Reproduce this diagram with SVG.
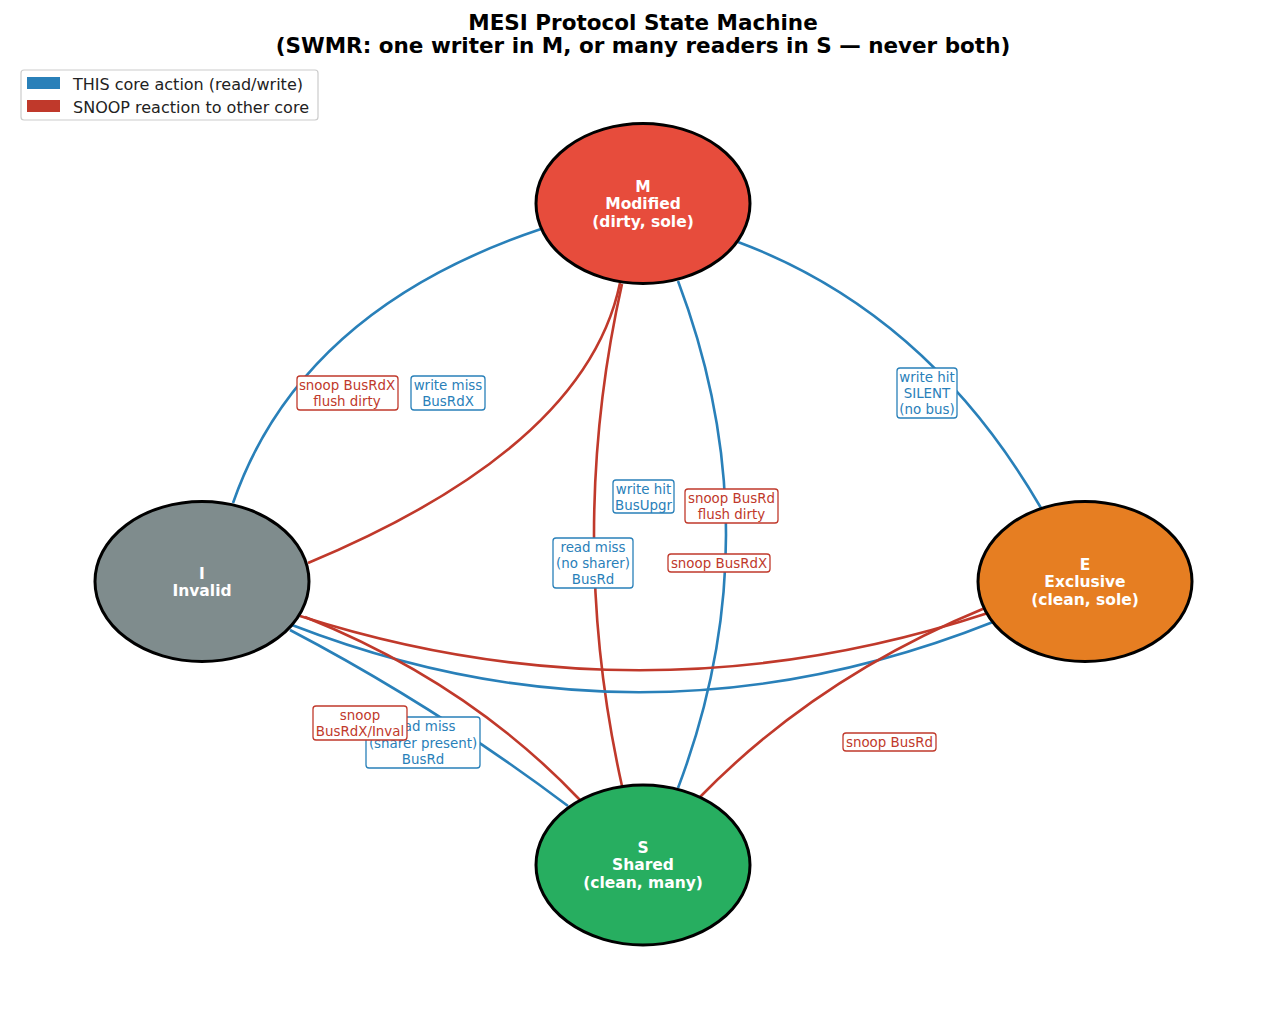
<svg xmlns="http://www.w3.org/2000/svg" width="1287" height="1020" viewBox="0 0 1287 1020">
<style>
text{font-family:"DejaVu Sans","Liberation Sans",sans-serif}
.title{font-size:21.5px;font-weight:bold;fill:#000;text-anchor:middle}
.leg{font-size:16px;fill:#222}
.node{stroke:#000;stroke-width:3}
.nt{font-size:15.5px;font-weight:bold;fill:#fff;text-anchor:middle}
.e{fill:none;stroke-width:2.6}
.b{stroke:#2980b9}
.r{stroke:#c0392b}
.lb{fill:#fff;stroke-width:1.3}
.lt{font-size:13.4px;text-anchor:middle}
.tb{fill:#2980b9}
.tr{fill:#c0392b}
</style>
<rect width="1287" height="1020" fill="#fff"/>
<g id="title">
<text class="title" x="643" y="29.5">MESI Protocol State Machine</text>
<text class="title" x="643" y="52.5">(SWMR: one writer in M, or many readers in S — never both)</text>
</g>
<g id="legend">
<rect x="21" y="70" width="297" height="50" rx="3" fill="#fff" stroke="#ccc" stroke-width="1.2"/>
<rect x="27" y="77" width="33" height="12" fill="#2980b9"/>
<rect x="27" y="100" width="33" height="12" fill="#c0392b"/>
<text class="leg" x="73" y="89.5">THIS core action (read/write)</text>
<text class="leg" x="73" y="112.5">SNOOP reaction to other core</text>
</g>
<g id="connectors">
<path class="e b" d="M233,503 Q300,310 541,229"/>
<path class="e r" d="M620,283 Q586,447 308,563"/>
<path class="e b" d="M738,242 Q928,313 1041,508"/>
<path class="e b" d="M678,281 Q774,535 678,788"/>
<path class="e r" d="M622,284 Q566,535 622,786"/>
<path class="e r" d="M300,616 Q644,726 988,613"/>
<path class="e b" d="M292,625 Q643,761 993,622"/>
<path class="e b" d="M290,630 Q435,706 568,806"/>
<path class="e r" d="M305,617 Q468,682 580,800"/>
<path class="e r" d="M985,608 Q817,677 700,797"/>
</g>
<g id="edge-labels">
<g><rect class="lb r" x="297" y="376" width="101" height="34" rx="3"/><text class="lt tr" x="347" y="390">snoop BusRdX<tspan x="347" dy="16">flush dirty</tspan></text></g>
<g><rect class="lb b" x="411" y="376" width="74" height="34" rx="3"/><text class="lt tb" x="448" y="390">write miss<tspan x="448" dy="16">BusRdX</tspan></text></g>
<g><rect class="lb b" x="897" y="368" width="60" height="50" rx="3"/><text class="lt tb" x="927" y="382">write hit<tspan x="927" dy="16">SILENT</tspan><tspan x="927" dy="16">(no bus)</tspan></text></g>
<g><rect class="lb b" x="613" y="480" width="61" height="33" rx="3"/><text class="lt tb" x="643.5" y="494">write hit<tspan x="643.5" dy="16">BusUpgr</tspan></text></g>
<g><rect class="lb r" x="685" y="489" width="93" height="34" rx="3"/><text class="lt tr" x="731.5" y="503">snoop BusRd<tspan x="731.5" dy="16">flush dirty</tspan></text></g>
<g><rect class="lb b" x="553" y="538" width="80" height="50" rx="3"/><text class="lt tb" x="593" y="552">read miss<tspan x="593" dy="16">(no sharer)</tspan><tspan x="593" dy="16">BusRd</tspan></text></g>
<g><rect class="lb r" x="668" y="554" width="102" height="18" rx="3"/><text class="lt tr" x="719" y="568">snoop BusRdX</text></g>
<g><rect class="lb b" x="366" y="717" width="114" height="51" rx="3"/><text class="lt tb" x="423" y="731">read miss<tspan x="423" dy="16.5">(sharer present)</tspan><tspan x="423" dy="16.5">BusRd</tspan></text></g>
<g><rect class="lb r" x="313" y="706" width="94" height="34" rx="3"/><text class="lt tr" x="360" y="720">snoop<tspan x="360" dy="16">BusRdX/Inval</tspan></text></g>
<g><rect class="lb r" x="843" y="733" width="93" height="18" rx="3"/><text class="lt tr" x="889.5" y="747">snoop BusRd</text></g>
</g>
<g id="node-M">
<ellipse class="node" cx="643" cy="203.5" rx="107" ry="80" fill="#e74c3c"/>
<text class="nt" x="643" y="191.5">M<tspan x="643" dy="17.5">Modified</tspan><tspan x="643" dy="17.5">(dirty, sole)</tspan></text>
</g>
<g id="node-I">
<ellipse class="node" cx="202" cy="581.5" rx="107" ry="80" fill="#7f8c8d"/>
<text class="nt" x="202" y="578.5">I<tspan x="202" dy="17.5">Invalid</tspan></text>
</g>
<g id="node-E">
<ellipse class="node" cx="1085" cy="581.5" rx="107" ry="80" fill="#e67e22"/>
<text class="nt" x="1085" y="569.5">E<tspan x="1085" dy="17.5">Exclusive</tspan><tspan x="1085" dy="17.5">(clean, sole)</tspan></text>
</g>
<g id="node-S">
<ellipse class="node" cx="643" cy="865" rx="107" ry="80" fill="#27ae60"/>
<text class="nt" x="643" y="852.5">S<tspan x="643" dy="17.5">Shared</tspan><tspan x="643" dy="17.5">(clean, many)</tspan></text>
</g>
</svg>
